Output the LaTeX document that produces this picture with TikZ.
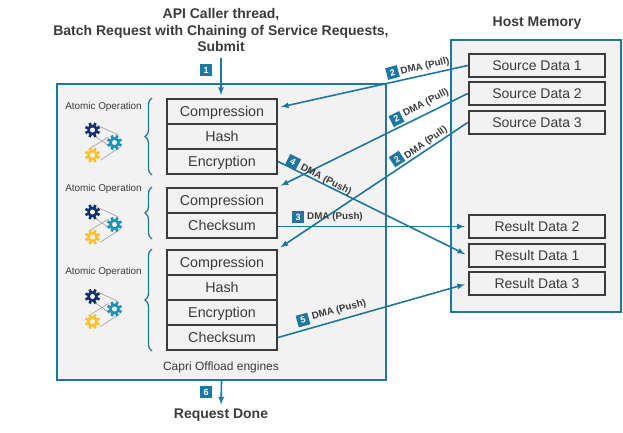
\documentclass[tikz,border=0pt]{standalone}
\usepackage{fontspec}
\setmainfont{Liberation Sans}
\usetikzlibrary{decorations.pathreplacing}
\definecolor{capriblue}{HTML}{1F77A0}
\definecolor{panelgray}{HTML}{F2F2F2}
\definecolor{boxdark}{HTML}{3B3B3B}
\definecolor{gearnavy}{HTML}{14306B}
\definecolor{gearteal}{HTML}{2390B8}
\definecolor{gearyellow}{HTML}{FBC02D}
\tikzset{
  panel/.style={rectangle, draw=capriblue, fill=panelgray, line width=2pt},
  engine/.style={rectangle, minimum width=110pt, minimum height=25pt, text height=10.3pt, text depth=0pt, draw=boxdark, line width=2pt, text=boxdark, font=\fontsize{14.3}{16}\selectfont},
  databox/.style={rectangle, minimum width=136.5pt, minimum height=23pt, text height=10pt, text depth=0pt, draw=boxdark, line width=2pt, text=boxdark, font=\fontsize{14}{16}\selectfont},
  headline/.style={text=boxdark, align=center, font=\fontsize{14}{16.5}\selectfont\bfseries},
  atomiclabel/.style={text=boxdark, font=\fontsize{9.9}{12}\selectfont},
  badge/.style={rectangle, minimum size=12pt, fill=capriblue, text=white, font=\fontsize{9}{10}\selectfont\bfseries},
  dmalabel/.style={text=boxdark, font=\fontsize{9.8}{11}\selectfont\bfseries},
  flow/.style={draw=capriblue, line width=1.6pt, -latex, shorten >=3pt},
  opbrace/.style={draw=capriblue, line width=1.3pt, decorate, decoration={brace, amplitude=7pt}},
  pics/cog/.style={code={
    \fill [#1] circle (5.3pt);
    \foreach \a in {0,45,...,315} {\draw [#1, line width=2.6pt] (\a+22.5:4pt) -- (\a+22.5:7.6pt);}
    \fill [panelgray] circle (2.5pt);
  }},
  pics/cogset/.style={code={
    \draw [gray!70, line width=0.7pt] (4pt,5pt) -- (26pt,-5pt) (1pt,-5pt) -- (18pt,-17pt)
      (-2pt,-18pt) -- (16pt,-7pt) (8pt,-30pt) -- (28pt,-17pt);
    \pic at (0pt,0pt) {cog=gearnavy};
    \pic at (22pt,-12.5pt) {cog=gearteal};
    \pic at (0pt,-25pt) {cog=gearyellow};
  }}
}
\begin{document}
\begin{tikzpicture}
[every node/.style={inner sep=0pt}]
\useasboundingbox (0pt,0pt) rectangle (623pt,-432pt);
% panels
\node (offload) [panel, minimum width=329pt, minimum height=296pt] at (221.5pt,-232pt) {};
\node (host) [panel, minimum width=170pt, minimum height=272pt] at (536pt,-176pt) {};
% first chain
\node (comp1) [engine] at (222pt,-111.5pt) {Compression};
\node (hash1) [engine] at (222pt,-136.5pt) {Hash};
\node (encr1) [engine] at (222pt,-161.5pt) {Encryption};
% second chain
\node (comp2) [engine] at (222pt,-200.5pt) {Compression};
\node (csum2) [engine] at (222pt,-225.5pt) {Checksum};
% third chain
\node (comp3) [engine] at (222pt,-262.5pt) {Compression};
\node (hash3) [engine] at (222pt,-287.5pt) {Hash};
\node (encr3) [engine] at (222pt,-312.5pt) {Encryption};
\node (csum3) [engine] at (222pt,-337.5pt) {Checksum};
% host memory
\node (src1) [databox] at (537pt,-65.5pt) {Source Data 1};
\node (src2) [databox] at (537pt,-93.5pt) {Source Data 2};
\node (src3) [databox] at (537pt,-122.5pt) {Source Data 3};
\node (res2) [databox] at (537pt,-226.5pt) {Result Data 2};
\node (res1) [databox] at (537pt,-255.5pt) {Result Data 1};
\node (res3) [databox] at (537pt,-283.5pt) {Result Data 3};
% texts
\node (caller) [headline] at (221pt,-30pt) {API Caller thread,\\Batch Request with Chaining of Service Requests,\\Submit};
\node (hostname) [headline] at (537pt,-23pt) {Host Memory};
\node (done) [headline] at (221pt,-415pt) {Request Done};
\node (engines) [text=boxdark, font=\fontsize{12}{14}\selectfont] at (221pt,-367pt) {Capri Offload engines};
\node (atomic1) [atomiclabel] at (103.5pt,-107pt) {Atomic Operation};
\node (atomic2) [atomiclabel] at (103.5pt,-189pt) {Atomic Operation};
\node (atomic3) [atomiclabel] at (103.5pt,-272pt) {Atomic Operation};
% gears and braces
\pic at (92.5pt,-130pt) {cogset};
\pic at (92.5pt,-212pt) {cogset};
\pic at (92.5pt,-296.5pt) {cogset};
\draw [opbrace] ([xshift=-14pt]encr1.south west) -- ([xshift=-14pt]comp1.north west);
\draw [opbrace] ([xshift=-14pt]csum2.south west) -- ([xshift=-14pt]comp2.north west);
\draw [opbrace] ([xshift=-14pt]csum3.south west) -- ([xshift=-14pt]comp3.north west);
% flows
\draw [flow, shorten <=6pt] (caller.south) -- (caller.south |- comp1.north);
\draw [flow] (src1.west) -- (comp1.4);
\draw [flow] (src2.west) -- (comp2.north east);
\draw [flow] (src3.west) -- (comp3.north east);
\draw [flow] (encr1.east) -- (res1.west);
\draw [flow] (csum2.east |- res2.west) -- (res2.west);
\draw [flow] (csum3.east) -- (res3.west);
\draw [flow, shorten >=4pt] (offload.south) -- (done.north);
% step labels
\node (step1) [badge] at (206pt,-70pt) {1};
\node (step2a) [badge, rotate=15] at (392.5pt,-72.5pt) {2};
\node (step2b) [badge, rotate=27] at (396.5pt,-119pt) {2};
\node (step2c) [badge, rotate=33] at (397pt,-159pt) {2};
\node (step3) [badge] at (298pt,-217pt) {3};
\node (step4) [badge, rotate=-27] at (293pt,-162pt) {4};
\node (step5) [badge, rotate=15] at (303pt,-320pt) {5};
\node (step6) [badge] at (206pt,-392pt) {6};
\node (pull1) [dmalabel, rotate=13] at (425pt,-66.5pt) {DMA (Pull)};
\node (pull2) [dmalabel, rotate=27] at (426pt,-103pt) {DMA (Pull)};
\node (pull3) [dmalabel, rotate=35] at (426pt,-143pt) {DMA (Pull)};
\node (push3) [dmalabel] at (335pt,-216.5pt) {DMA (Push)};
\node (push4) [dmalabel, rotate=-27] at (326pt,-180pt) {DMA (Push)};
\node (push5) [dmalabel, rotate=15] at (339pt,-310pt) {DMA (Push)};
\end{tikzpicture}
\end{document}
